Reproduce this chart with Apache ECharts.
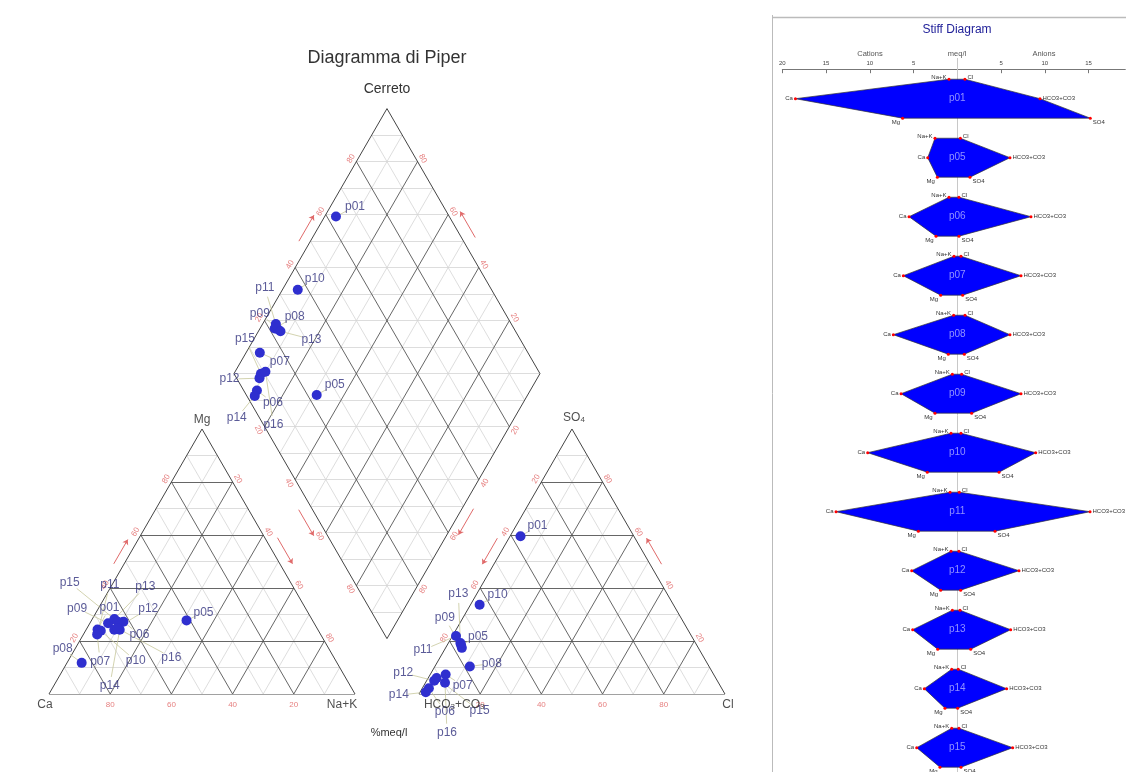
<!DOCTYPE html>
<html><head><meta charset="utf-8">
<script src="https://cdn.jsdelivr.net/npm/echarts/dist/echarts.min.js"></script>
<style>html,body{margin:0;padding:0;background:#fff}#c{width:1126px;height:772px}</style>
</head><body><div id="c"></div>
<script>
// ---------------- DATA (meq/l) ----------------
const samples = ['p01','p05','p06','p07','p08','p09','p10','p11','p12','p13','p14','p15','p16'];
const ca   = [18.5, 3.38, 5.52, 6.17, 7.31, 6.43, 10.24, 13.86, 5.21, 5.10, 3.77, 4.64, 4.60];
const mg   = [6.25, 2.28, 2.43, 1.90, 1.03, 2.55, 3.43, 4.45, 1.90, 2.24, 1.41, 1.98, 1.75];
const nak  = [0.95, 2.55, 0.95, 0.38, 0.42, 0.57, 0.72, 0.83, 0.72, 0.57, 0.64, 0.64, 0.70];
const hco3 = [9.45, 6.02, 8.42, 7.28, 6.02, 7.28, 8.96, 15.17, 7.05, 6.10, 5.64, 6.33, 6.30];
const so4  = [15.2, 1.45, 0.19, 0.61, 0.80, 1.64, 4.77, 4.31, 0.38, 1.53, 0.04, 0.42, 0.30];
const cl   = [0.87, 0.35, 0.19, 0.42, 0.88, 0.50, 0.42, 0.23, 0.19, 0.31, 0.11, 0.19, 0.45];
const ternaryTicks = [20, 40, 60, 80];
const stiffTicks = [-20, -15, -10, -5, 0, 5, 10, 15];
const stiffTickLabels = [-20, -15, -10, -5, 5, 10, 15];

// ---------------- LAYOUT (label offsets in px, styles) ----------------
const catLabelOff = [[12,-22],[17,-8],[16,13],[3,27],[-19,-14],[-31,-15],[35,30],[12,-48],[34,-21],[31,-32],[-10,56],[-48,-39],[54,29]];
const diaLabelOff = [[19,-10],[18,-10],[16,12],[20,9],[20,-12],[-18,-16],[17,-11],[-11,-36],[-30,1],[31,8],[-18,22],[-16,-35],[8,53]];
const anLabelOff  = [[17,-10],[17,-8],[16,23],[17,11],[22,-3],[-17,-30],[18,-10],[-33,14],[-31,-8],[-2,-49],[-27,3],[43,33],[2,50]];

const SIDE = 100, H = SIDE*Math.sqrt(3)/2, GAP = 20.9, S = 3.06;
const X0 = 49, Y0 = 694;
const W = 2*SIDE + GAP, BY = GAP/2*Math.sqrt(3), YMAX = BY + 2*H;
const OX = SIDE + GAP;             // right triangle origin
const B = [SIDE + GAP/2, BY];      // diamond bottom vertex
const U = [-SIDE/2, H], V = [SIDE/2, H];
const add = (p, q, k=1) => [p[0]+q[0]*k, p[1]+q[1]*k];

function catXY(i){ const t = ca[i]+mg[i]+nak[i]; const fm = mg[i]/t, fn = nak[i]/t; return [fn*SIDE + fm*SIDE/2, fm*H]; }
function anXY(i){ const t = hco3[i]+so4[i]+cl[i]; const fs = so4[i]/t, fl = cl[i]/t; return [OX + fl*SIDE + fs*SIDE/2, fs*H]; }
function diaXY(i){ const a = (ca[i]+mg[i])/(ca[i]+mg[i]+nak[i]); const b = (so4[i]+cl[i])/(hco3[i]+so4[i]+cl[i]); return add(add(B, U, a), V, b); }

// grid lines
const dark = [], light = [];
function seg(p, q, major){ (major ? dark : light).push({coords: [p, q]}); }
for (let k = 1; k <= 9; k++) {
  const p = k/10, major = (k % 2 === 0);
  for (const ox of [0, OX]) {
    seg([ox + p*SIDE/2, p*H], [ox + SIDE - p*SIDE/2, p*H], major);
    seg([ox + p*SIDE, 0], [ox + p*SIDE + (1-p)*SIDE/2, (1-p)*H], major);
    seg([ox + (1-p)*SIDE, 0], [ox + (1-p)*SIDE/2, (1-p)*H], major);
  }
  seg(add(B, U, p), add(add(B, U, p), V), major);
  seg(add(B, V, p), add(add(B, V, p), U), major);
}
for (let k = 1; k <= 19; k++) {
  const s = k/10;
  if (k === 10) continue;
  if (s < 1) seg(add(B, U, s), add(B, V, s), false);
  else seg(add(add(B, U), V, s-1), add(add(B, V), U, s-1), false);
}
seg(add(B,U), add(B,V), false);
const outline = [];
for (const ox of [0, OX]) {
  outline.push({coords: [[ox,0],[ox+SIDE,0]]}, {coords: [[ox+SIDE,0],[ox+SIDE/2,H]]}, {coords: [[ox+SIDE/2,H],[ox,0]]});
}
const L = add(B,U), R = add(B,V), T = add(add(B,U),V);
outline.push({coords:[B,L]},{coords:[L,T]},{coords:[T,R]},{coords:[R,B]});

// red tick labels
const r3 = Math.sqrt(3)/2;
const tickLabels = [];
function tl(pt, n, px, txt, rot){ tickLabels.push({value: add(pt, n, px/S), label: {formatter: String(txt), rotate: rot}}); }
ternaryTicks.forEach(v => {
  const p = v/100;
  tl([(1-p)*SIDE, 0], [0,-1], 11, v, 0);
  tl([p*SIDE/2, p*H], [-r3, 0.5], 6, v, 60);
  tl([SIDE/2 + p*SIDE/2, H - p*H], [r3, 0.5], 6, v, -60);
  tl([OX + p*SIDE, 0], [0,-1], 11, v, 0);
  tl([OX + (1-p)*SIDE/2, (1-p)*H], [-r3, 0.5], 6, v, 60);
  tl([OX + SIDE - p*SIDE/2, p*H], [r3, 0.5], 6, v, -60);
  tl(add(add(B,U), V, p), [-r3, 0.5], 6, v, 60);
  tl(add(add(B,V), U, p), [r3, 0.5], 6, v, -60);
  tl(add(B, U, 1-p), [-r3, -0.5], 7, v, -60);
  tl(add(B, V, 1-p), [r3, -0.5], 7, v, 60);
});

// red arrows
const arrows = [];
function arrow(P0, P1, t, n, offPx, lenPx){
  const d = [P1[0]-P0[0], P1[1]-P0[1]]; const len = Math.hypot(d[0], d[1]);
  const dir = [d[0]/len, d[1]/len];
  const c = add(add(P0, d, t), n, offPx/S);
  const h = lenPx/2/S;
  arrows.push({coords: [add(c, dir, -h), add(c, dir, h)]});
}
const Ca0 = [0,0], Na0 = [SIDE,0], Mg0 = [SIDE/2,H];
const Hc0 = [OX,0], Cl0 = [OX+SIDE,0], So0 = [OX+SIDE/2,H];
arrow(Ca0, Mg0, 0.52, [-r3,0.5], 9, 28);
arrow(Mg0, Na0, 0.48, [r3,0.5], 11, 30);
arrow(Na0, Ca0, 0.5, [0,-1], 12, 38);
arrow(Hc0, Cl0, 0.5, [0,-1], 12, 38);
arrow(So0, Hc0, 0.48, [-r3,0.5], 10, 30);
arrow(Cl0, So0, 0.52, [r3,0.5], 10, 30);
arrow(L, T, 0.53, [-r3,0.5], 10, 30);
arrow(R, T, 0.54, [r3,0.5], 12, 30);
arrow(L, B, 0.54, [-r3,-0.5], 12, 30);
arrow(R, B, 0.54, [r3,-0.5], 10, 30);

// sample points, labels, leaders
function panel(fn, offs){
  const pts = [], labs = [], leads = [];
  samples.forEach((s, i) => {
    const p = fn(i); const o = offs[i];
    pts.push({value: p, name: s});
    const lp = add(p, [o[0], -o[1]], 1/S);
    labs.push({value: lp, name: s});
    const m = Math.hypot(o[0], o[1]); const k = Math.max(0, 1 - 9/m);
    leads.push({coords: [p, add(p, [o[0]*k, -o[1]*k], 1/S)]});
  });
  return {pts, labs, leads};
}
const P1 = panel(catXY, catLabelOff), P2 = panel(diaXY, diaLabelOff), P3 = panel(anXY, anLabelOff);

const corners = [
  {value: Ca0, name: 'Ca', off: [-4, 11]},
  {value: Na0, name: 'Na+K', off: [-13, 11]},
  {value: Mg0, name: 'Mg', off: [0, -9]},
  {value: So0, name: 'SO{s|4}', off: [2, -11]},
  {value: Hc0, name: 'HCO{s|3}+CO{s|3}', off: [5, 11], left: true},
  {value: Cl0, name: 'Cl', off: [3, 11]}
];

const FONT = 'Liberation Sans, Arial, sans-serif';
const series = [];
const pip = {xAxisIndex: 0, yAxisIndex: 0};
series.push(Object.assign({type:'lines', coordinateSystem:'cartesian2d', data: light, silent:true, lineStyle:{color:'#d4d4d4', width:0.8, opacity:1}, z:1}, pip));
series.push(Object.assign({type:'lines', coordinateSystem:'cartesian2d', data: dark, silent:true, lineStyle:{color:'#555', width:0.9, opacity:1}, z:2}, pip));
series.push(Object.assign({type:'lines', coordinateSystem:'cartesian2d', data: outline, silent:true, lineStyle:{color:'#444', width:1, opacity:1}, z:2}, pip));
series.push(Object.assign({type:'lines', coordinateSystem:'cartesian2d', data: arrows, silent:true, symbol:['none','arrow'], symbolSize:5, lineStyle:{color:'#e06a6a', width:1, opacity:1}, z:3}, pip));
series.push(Object.assign({type:'scatter', data: tickLabels, symbolSize:0, silent:true, clip:false,
  label:{show:true, position:'inside', fontSize:8, color:'#e06060', fontFamily: FONT}, z:4}, pip));
for (const P of [P1, P2, P3]) {
  series.push(Object.assign({type:'lines', coordinateSystem:'cartesian2d', data: P.leads, silent:true, clip:false, lineStyle:{color:'#c8c89c', width:0.8, opacity:1}, z:5}, pip));
  series.push(Object.assign({type:'scatter', data: P.pts, symbolSize:10, silent:true, clip:false, itemStyle:{color:'#2f2fcf', opacity:1}, z:6}, pip));
  series.push(Object.assign({type:'scatter', data: P.labs, symbolSize:0, silent:true, clip:false,
    label:{show:true, position:'inside', formatter:'{b}', fontSize:12, color:'#32327e', fontFamily: FONT}, z:7}, pip));
}
series.push(Object.assign({type:'scatter', symbolSize:0, silent:true, clip:false, z:7,
  data: corners.map(c => ({value: c.value, name: c.name, label: {offset: c.off, align: c.left ? 'left' : 'center'}})),
  label:{show:true, position:'inside', formatter:'{b}', fontSize:12, color:'#222', fontFamily: FONT,
    rich:{s:{fontSize:8, lineHeight:8, verticalAlign:'bottom', color:'#222', fontFamily: FONT, padding:[6,0,0,0]}}}}, pip));

// ---------------- STIFF ----------------
const st = {xAxisIndex: 1, yAxisIndex: 1};
const ROW = 0.33;
const PXU = 8.75, SROW = 59, STOP = 69.2;
series.push(Object.assign({type:'lines', coordinateSystem:'cartesian2d', silent:true, clip:false, z:1,
  data:[{coords:[[0,-0.69],[0,12.5]]}], lineStyle:{color:'#c8c8c8', width:1, opacity:1}}, st));
series.push(Object.assign({type:'custom', silent:true, clip:false, z:3,
  data: samples.map((s,i) => [i, nak[i], ca[i], mg[i], so4[i], hco3[i], cl[i]]),
  renderItem: (params, api) => {
    const i = api.value(0);
    const pts = [[-api.value(1), i-ROW], [-api.value(2), i], [-api.value(3), i+ROW],
                 [api.value(4), i+ROW], [api.value(5), i], [api.value(6), i-ROW]].map(p => api.coord(p));
    return {type:'polygon', shape:{points: pts}, style:{fill:'#0000ff', stroke:'#333', lineWidth:0.7}};
  }}, st));
const ions = [
  {name:'Na+K', vals: nak, sign:-1, row:-1, pos:'left', off:[0,-2]},
  {name:'Ca', vals: ca, sign:-1, row:0, pos:'left', off:[0,0]},
  {name:'Mg', vals: mg, sign:-1, row:1, pos:'left', off:[0,4]},
  {name:'Cl', vals: cl, sign:1, row:-1, pos:'right', off:[0,-2]},
  {name:'HCO3+CO3', vals: hco3, sign:1, row:0, pos:'right', off:[0,0]},
  {name:'SO4', vals: so4, sign:1, row:1, pos:'right', off:[0,4]}
];
ions.forEach(ion => {
  series.push(Object.assign({type:'scatter', silent:true, clip:false, z:5, symbolSize:3,
    itemStyle:{color:'#ff0000', opacity:1},
    data: samples.map((s,i) => [ion.sign*ion.vals[i], i + ion.row*ROW]),
    label:{show:true, position: ion.pos, distance:1, offset: ion.off, formatter: ion.name, fontSize:6, color:'#333', fontFamily: FONT}}, st));
});
series.push(Object.assign({type:'scatter', silent:true, clip:false, z:6, symbolSize:0,
  data: samples.map((s,i) => ({value:[0, i], name: s})),
  label:{show:true, position:'inside', formatter:'{b}', fontSize:10, color:'#b4b4ff', fontFamily: FONT}}, st));

const XMAX = 19.2, YMAX2 = 11.4;
const chart = echarts.init(document.getElementById('c'), null, {renderer:'canvas'});
chart.setOption({
  animation: false,
  backgroundColor: '#ffffff',
  grid: [
    {left: X0, top: Y0 - YMAX*S, width: W*S, height: YMAX*S},
    {left: 957.3 - 20*PXU, top: STOP, width: (20 + XMAX)*PXU, height: (YMAX2 + 0.5)*SROW}
  ],
  xAxis: [
    {gridIndex:0, type:'value', min:0, max:W, show:false},
    {gridIndex:1, type:'value', min:-20, max:XMAX, interval: 5, position:'top',
     axisLine:{show:true, onZero:false, lineStyle:{color:'#777', width:1}},
     axisTick:{show:true, inside:true, length:4, customValues: stiffTicks, lineStyle:{color:'#777'}},
     axisLabel:{fontSize:6, color:'#444', margin:3, fontFamily: FONT, customValues: stiffTickLabels, formatter: v => String(Math.abs(v))},
     splitLine:{show:false}}
  ],
  yAxis: [
    {gridIndex:0, type:'value', min:0, max:YMAX, show:false},
    {gridIndex:1, type:'value', min:-0.5, max:YMAX2, inverse:true, show:false}
  ],
  graphic: [
    {type:'text', x:387, y:58, style:{text:'Diagramma di Piper', align:'center', verticalAlign:'middle', fontSize:18, fontFamily: FONT, fill:'#333'}},
    {type:'text', x:387, y:89, style:{text:'Cerreto', align:'center', verticalAlign:'middle', fontSize:14, fontFamily: FONT, fill:'#333'}},
    {type:'text', x:389, y:733, style:{text:'%meq/l', align:'center', verticalAlign:'middle', fontSize:11, fontFamily: FONT, fill:'#333'}},
    {type:'text', x:957, y:30, style:{text:'Stiff Diagram', align:'center', verticalAlign:'middle', fontSize:12, fontFamily: FONT, fill:'#22229a'}},
    {type:'text', x:870, y:54, style:{text:'Cations', align:'center', verticalAlign:'middle', fontSize:7.5, fontFamily: FONT, fill:'#555'}},
    {type:'text', x:957, y:54, style:{text:'meq/l', align:'center', verticalAlign:'middle', fontSize:7.5, fontFamily: FONT, fill:'#555'}},
    {type:'text', x:1044, y:54, style:{text:'Anions', align:'center', verticalAlign:'middle', fontSize:7.5, fontFamily: FONT, fill:'#555'}},
    {type:'line', shape:{x1:772.5, y1:15, x2:772.5, y2:772}, style:{stroke:'#bbb', lineWidth:1}},
    {type:'line', shape:{x1:772, y1:17.5, x2:1126, y2:17.5}, style:{stroke:'#bbb', lineWidth:1.5}}
  ],
  series
});
</script>
</body></html>
